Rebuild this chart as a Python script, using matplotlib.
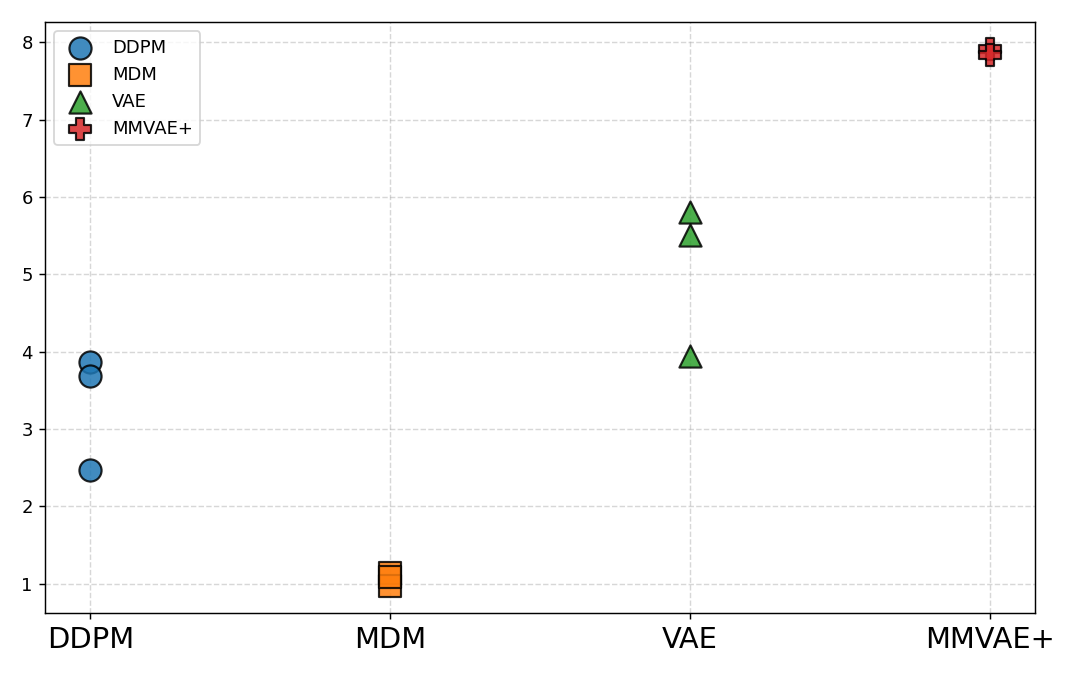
import numpy as np
import matplotlib
matplotlib.use('Agg')
import matplotlib.pyplot as plt

'''scatter of the score of each model family, one column per family'''

models = ['DDPM', 'MDM', 'VAE', 'MMVAE+']
markers = ['o', 's', '^', 'P']
colors = ['tab:blue', 'tab:orange', 'tab:green', 'tab:red']

ddpm_scores = [3.86, 3.69, 2.47]
mdm_scores = [1.14, 0.97, 1.09]
vae_scores = [5.81, 5.51, 3.94]
mmvae_scores = [7.91, 7.84]

scores = [ddpm_scores, mdm_scores, vae_scores, mmvae_scores]

fig, ax = plt.subplots(figsize=(1080/130, 675/130), dpi=130)

for i, (name, vals) in enumerate(zip(models, scores)):
    ax.scatter(np.full(len(vals), i), vals, s=150, marker=markers[i], color=colors[i],
               edgecolors='black', linewidths=1.2, alpha=0.85, label=name, zorder=3)

ax.set_xticks(range(len(models)))
ax.set_xticklabels(models, fontsize=16)
ax.set_xlim(-0.15, 3.15)
ax.grid(True, linestyle='--', alpha=0.5)
ax.legend(loc='upper left')

fig.subplots_adjust(left=0.042, right=0.958, top=0.967, bottom=0.092)
fig.savefig('out.png')
